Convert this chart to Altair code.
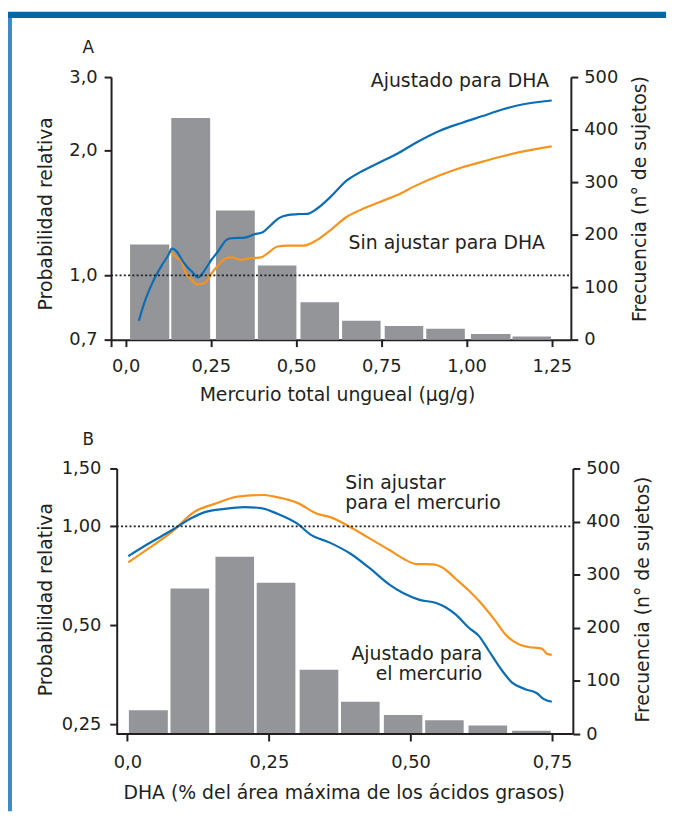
import altair as alt
import pandas as pd

FONT = "DejaVu Sans"
INK = "#231f20"
BLUE = "#0b6db4"
ORANGE = "#f7941d"
GRAY = "#939598"
FRAME_TOP = "#0067a9"
FRAME_SIDE = "#3d89c6"

# ---------------- Panel A data ----------------
a_bin_start = [0.013, 0.134, 0.265, 0.388, 0.513, 0.635, 0.760, 0.882, 1.013, 1.135]
a_bin_end = [0.128, 0.248, 0.379, 0.501, 0.626, 0.748, 0.873, 0.995, 1.129, 1.248]
a_freq = [181, 422, 246, 141, 71, 36, 26, 21, 11, 6]

a_adj_x = [0.039, 0.0535, 0.0775, 0.1065, 0.126, 0.1355, 0.150, 0.165, 0.179, 0.194,
           0.212, 0.233, 0.252, 0.271, 0.296, 0.310, 0.349, 0.378, 0.402, 0.426,
           0.451, 0.475, 0.504, 0.533, 0.562, 0.601, 0.649, 0.688, 0.746, 0.795,
           0.853, 0.920, 0.988, 1.047, 1.105, 1.163, 1.250]
a_adj_rr = [0.777, 0.852, 0.955, 1.058, 1.121, 1.160, 1.141, 1.090, 1.051, 1.022,
            0.989, 1.032, 1.090, 1.141, 1.217, 1.228, 1.232, 1.255, 1.269, 1.321,
            1.375, 1.396, 1.403, 1.406, 1.448, 1.544, 1.692, 1.771, 1.871, 1.958,
            2.088, 2.226, 2.330, 2.417, 2.507, 2.577, 2.634]

a_unadj_x = [0.131, 0.145, 0.165, 0.174, 0.194, 0.211, 0.233, 0.252, 0.271, 0.296,
             0.310, 0.339, 0.368, 0.397, 0.417, 0.446, 0.475, 0.523, 0.562, 0.601,
             0.649, 0.688, 0.746, 0.795, 0.853, 0.920, 0.988, 1.047, 1.105, 1.163, 1.250]
a_unadj_rr = [1.145, 1.110, 1.080, 1.022, 0.975, 0.950, 0.959, 1.010, 1.056, 1.100,
              1.104, 1.090, 1.100, 1.104, 1.131, 1.173, 1.179, 1.179, 1.217, 1.285,
              1.383, 1.435, 1.502, 1.558, 1.646, 1.738, 1.820, 1.877, 1.934, 1.984, 2.043]

a_notes = ["Ajustado para DHA", "Sin ajustar para DHA"]
a_notes_x = [0.981, 0.942]
a_notes_rr = [2.84, 1.154]

a_xticks = [0, 0.25, 0.5, 0.75, 1.0, 1.25]
a_yticks = [0.7, 1.0, 2.0, 3.0]
freq_ticks = [0, 100, 200, 300, 400, 500]

# ---------------- Panel B data ----------------
b_bin_start = [0.0026, 0.0761, 0.1555, 0.2284, 0.3042, 0.3772, 0.453, 0.526, 0.6025, 0.6795]
b_bin_end = [0.0714, 0.1444, 0.2237, 0.2967, 0.3725, 0.4455, 0.521, 0.594, 0.6707, 0.7478]
b_freq = [45, 274, 334, 285, 121, 61, 36, 26, 16, 6]

b_adj_x = [0.0015, 0.0376, 0.0784, 0.1134, 0.1368, 0.1718, 0.2068, 0.236, 0.2652, 0.3002,
           0.3235, 0.3585, 0.3935, 0.4285, 0.4635, 0.4869, 0.516, 0.5452, 0.5627, 0.5802,
           0.6036, 0.6211, 0.6386, 0.662, 0.6795, 0.7028, 0.7233, 0.7349, 0.7496]
b_adj_rr = [0.812, 0.887, 0.973, 1.060, 1.105, 1.131, 1.144, 1.136, 1.092, 1.019,
            0.944, 0.891, 0.827, 0.745, 0.664, 0.627, 0.598, 0.585, 0.567, 0.539,
            0.491, 0.464, 0.418, 0.364, 0.335, 0.320, 0.311, 0.299, 0.293]

b_unadj_x = [0.0015, 0.0376, 0.0784, 0.1192, 0.1542, 0.1951, 0.2418, 0.2652, 0.3002, 0.3352,
             0.3585, 0.3935, 0.4285, 0.4635, 0.4869, 0.5102, 0.5394, 0.557, 0.5802, 0.6036,
             0.627, 0.6503, 0.6678, 0.6912, 0.7087, 0.732, 0.7408, 0.7496]
b_unadj_rr = [0.777, 0.857, 0.962, 1.110, 1.171, 1.232, 1.246, 1.226, 1.179, 1.092,
              1.067, 0.996, 0.918, 0.846, 0.799, 0.768, 0.767, 0.749, 0.692, 0.637,
              0.578, 0.515, 0.469, 0.438, 0.430, 0.425, 0.410, 0.407]

b_notes_left = ["Sin ajustar", "para el mercurio"]
b_notes_left_x = [0.3847, 0.3847]
b_notes_left_rr = [1.297, 1.129]
b_notes_right = ["Ajustado para", "el mercurio"]
b_notes_right_x = [0.627, 0.627]
b_notes_right_rr = [0.3932, 0.3423]

b_xticks = [0, 0.25, 0.5, 0.75]
b_yticks = [0.25, 0.5, 1.0, 1.5]


def ax(**kw):
    base = dict(domainColor=INK, domainWidth=2, tickColor=INK, tickWidth=2, tickSize=7,
                labelFont=FONT, labelFontSize=18, labelColor=INK,
                titleFont=FONT, titleFontSize=19, titleColor=INK, titleFontWeight="normal",
                grid=False, labelFlush=False, labelOverlap=False)
    base.update(kw)
    return alt.Axis(**base)


one = pd.DataFrame({"k": [0]})


def panel(letter, W, H, xdom, ydom, bins0, bins1, freq, adj_x, adj_rr, un_x, un_rr,
          x_axis, y_axis, r_axis, notes, side_top, side_bottom, x_rule=None):
    xs = alt.Scale(domain=xdom, nice=False, zero=False)
    yl = alt.Scale(type="log", domain=ydom, nice=False)
    yr = alt.Scale(domain=[0, 500], nice=False)

    def X(f):
        return alt.X(f, scale=xs, axis=x_axis)

    def YL(f):
        return alt.Y(f, scale=yl, axis=y_axis)

    bars = alt.Chart(pd.DataFrame({"x0": bins0, "x1": bins1, "n": freq,
                                   "z": [0] * len(freq)})).mark_bar(color=GRAY).encode(
        x=X("x0:Q"),
        x2="x1:Q",
        y=alt.Y("n:Q", scale=yr, axis=r_axis),
        y2="z:Q",
    )

    l_un = alt.Chart(pd.DataFrame({"x": un_x, "rr": un_rr})).mark_line(
        color=ORANGE, strokeWidth=2.2, interpolate="monotone").encode(
        x=X("x:Q"), y=YL("rr:Q"))
    l_adj = alt.Chart(pd.DataFrame({"x": adj_x, "rr": adj_rr})).mark_line(
        color=BLUE, strokeWidth=2.2, interpolate="monotone").encode(
        x=X("x:Q"), y=YL("rr:Q"))
    x_start = xdom[0] if x_rule is None else x_rule[0]
    ref = alt.Chart(pd.DataFrame({"x": [x_start], "x2": [xdom[1]], "rr": [1.0]})).mark_rule(
        color=INK, strokeWidth=1.7, strokeDash=[2, 2.3]).encode(
        x=X("x:Q"), x2="x2:Q", y=YL("rr:Q"))
    inner = [l_un, l_adj, ref]
    for (texts, xv, rv, align) in notes:
        inner.append(alt.Chart(pd.DataFrame({"t": texts, "x": xv, "rr": rv})).mark_text(
            font=FONT, fontSize=19, color=INK, align=align, baseline="alphabetic").encode(
            x=X("x:Q"), y=YL("rr:Q"), text="t:N"))
    if x_rule is not None:
        inner.append(alt.Chart(pd.DataFrame({"x": [x_rule[0]], "x2": [x_rule[1]],
                                             "rr": [ydom[0]]})).mark_rule(
            color=INK, strokeWidth=2).encode(x=X("x:Q"), x2="x2:Q", y=YL("rr:Q")))

    if letter == "A":
        inner.append(alt.Chart(one).mark_rect(color=FRAME_TOP).encode(
            x=alt.value(-104), x2=alt.value(560), y=alt.value(-66), y2=alt.value(-59.5)))
    inner.append(alt.Chart(one).mark_rect(color=FRAME_SIDE).encode(
        x=alt.value(-104), x2=alt.value(-100), y=alt.value(side_top), y2=alt.value(side_bottom)))
    inner.append(alt.Chart(one).mark_text(text=letter, font=FONT, fontSize=17, color=INK,
                                          align="center", baseline="alphabetic").encode(
        x=alt.value(-23), y=alt.value(-24)))

    left = alt.layer(*inner)
    return alt.layer(bars, left).resolve_scale(y="independent").properties(
        width=W, height=H)


# Panel A axes
a_x_axis = ax(values=[-0.0427] + a_xticks,
              labelExpr="datum.value < -0.01 ? '' : (datum.value == 0 ? '0,0' : replace(format(datum.value, '.2f'), '.', ','))",
              labelPadding=11, title="Mercurio total ungueal (µg/g)",
              titleX=228, titleY=61, titleAlign="center", titleBaseline="alphabetic")
a_y_axis = ax(orient="left", values=a_yticks,
              labelExpr="replace(format(datum.value, '.1f'), '.', ',')",
              labelPadding=7, title="Probabilidad relativa", titleAngle=270,
              titleX=-60, titleY=137.5, titleAlign="center", titleBaseline="alphabetic")
a_r_axis = ax(orient="right", values=freq_ticks, labelPadding=6,
              title="Frecuencia (n° de sujetos)", titleAngle=270,
              titleX=75, titleY=122.7, titleAlign="center", titleBaseline="alphabetic")

panel_a = panel("A", 464, 265, [-0.0427, 1.3061], [0.7, 3.0],
                a_bin_start, a_bin_end, a_freq, a_adj_x, a_adj_rr, a_unadj_x, a_unadj_rr,
                a_x_axis, a_y_axis, a_r_axis,
                [(a_notes, a_notes_x, a_notes_rr, "center")], -59.5, 346)

# Panel B axes
b_x_axis = ax(values=b_xticks, domain=False,
              labelExpr="datum.value == 0 ? '0,0' : replace(format(datum.value, '.2f'), '.', ',')",
              labelPadding=13, title="DHA (% del área máxima de los ácidos grasos)",
              titleX=234.7, titleY=64.7, titleAlign="center", titleBaseline="alphabetic")
b_y_axis = ax(orient="left", values=b_yticks, offset=-5.7,
              labelExpr="replace(format(datum.value, '.2f'), '.', ',')",
              labelPadding=9, title="Probabilidad relativa", titleAngle=270,
              titleX=-65.7, titleY=131.8, titleAlign="center", titleBaseline="alphabetic")
b_r_axis = ax(orient="right", values=freq_ticks, labelPadding=6,
              title="Frecuencia (n° de sujetos)", titleAngle=270,
              titleX=76, titleY=131.8, titleAlign="center", titleBaseline="alphabetic")

panel_b = panel("B", 466, 268, [-0.02888, 0.7868], [0.2337, 1.5],
                b_bin_start, b_bin_end, b_freq, b_adj_x, b_adj_rr, b_unadj_x, b_unadj_rr,
                b_x_axis, b_y_axis, b_r_axis,
                [(b_notes_left, b_notes_left_x, b_notes_left_rr, "left"),
                 (b_notes_right, b_notes_right_x, b_notes_right_rr, "right")],
                -49, 346, x_rule=(-0.0189, 0.7868))

chart = alt.vconcat(panel_a, panel_b, spacing=0).properties(padding=0).configure_view(
    strokeWidth=0)

chart.save("out.html", embed_options={"renderer": "svg", "actions": False})
